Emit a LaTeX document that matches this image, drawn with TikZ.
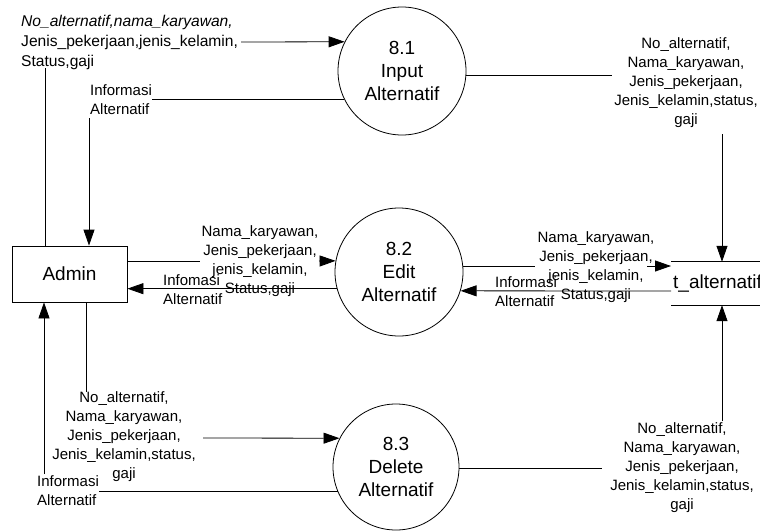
\documentclass[tikz,border=0pt]{standalone}
\usepackage{fontspec}
\setmainfont{Liberation Sans}
\usetikzlibrary{arrows.meta}
\newcommand\procfnt{\fontsize{19}{23}\selectfont}
\newcommand\lblfnt{\fontsize{15}{19}\selectfont}
\newcommand\toplblfnt{\fontsize{15.6}{20}\selectfont}
\begin{document}
\begin{tikzpicture}[x=1pt,y=-1pt,
  flow/.style={line width=0.8pt},
  arr/.style={flow,-{Triangle[length=16pt,width=11pt]}},
  proc/.style={circle,draw,line width=0.8pt,inner sep=0pt,align=center,font=\procfnt},
  ent/.style={rectangle,draw,line width=0.8pt,minimum width=115pt,minimum height=56pt,font=\procfnt},
  store/.style={rectangle,inner xsep=2pt,minimum height=43pt,font=\procfnt},
  lbl/.style={inner sep=0pt,align=center,font=\lblfnt},
  lbll/.style={inner sep=0pt,align=left,font=\lblfnt}]
\path[use as bounding box] (0,0) rectangle (760,530);
\clip (0,0) rectangle (760,530);

% external entity, processes and data store
\node[ent] (admin) at (69.5,274) {Admin};
\node[proc,minimum size=128pt] (c81) at (402,71) {8.1\\Input\\Alternatif};
\node[proc,minimum size=128pt] (c82) at (399,272) {8.2\\Edit\\Alternatif};
\node[proc,minimum size=126pt] (c83) at (396,467) {8.3\\Delete\\Alternatif};
\node[store,anchor=west] (st) at (671,283.5) {t\_alternatif};
\draw[flow] (st.north west) -- ++(100,0);
\draw[flow] (st.south west) -- ++(100,0);

% flow labels
\node[inner sep=0pt,align=left,font=\toplblfnt,anchor=west] (tl) at (21,42)
  {\itshape No\_alternatif,nama\_karyawan,\\Jenis\_pekerjaan,jenis\_kelamin,\\Status,gaji};
\node[lbll,anchor=west] (ia1) at (90,100) {Informasi\\Alternatif};
\node[lbl] (el) at (260,261) {Nama\_karyawan,\\Jenis\_pekerjaan,\\jenis\_kelamin,\\Status,gaji};
\node[lbll,anchor=west] (ia2) at (163,290) {Infomasi\\Alternatif};
\node[lbl] (er) at (596,267.5) {Nama\_karyawan,\\Jenis\_pekerjaan,\\jenis\_kelamin,\\Status,gaji};
\node[lbll,anchor=west] (ia3) at (495,292) {Informasi\\Alternatif};
\node[lbl] (tr) at (686,83) {No\_alternatif,\\Nama\_karyawan,\\Jenis\_pekerjaan,\\Jenis\_kelamin,status,\\gaji};
\node[lbl] (dl) at (124,437) {No\_alternatif,\\Nama\_karyawan,\\Jenis\_pekerjaan,\\Jenis\_kelamin,status,\\gaji};
\node[lbll,anchor=west] (ia4) at (37,491) {Informasi\\Alternatif};
\node[lbl] (dr) at (682,468) {No\_alternatif,\\Nama\_karyawan,\\Jenis\_pekerjaan,\\Jenis\_kelamin,status,\\gaji};

% break points of the flows around their labels
\coordinate (p1) at (45,68);
\coordinate (p2) at (89,118);
\coordinate (p3) at (200,261);
\coordinate (p4) at (319,261);
\coordinate (p5) at (535,266);
\coordinate (p6) at (647,266);
\coordinate (p7) at (671,291);
\coordinate (p8) at (612,76);
\coordinate (p9) at (722,134);
\coordinate (p10) at (86,392);
\coordinate (p11) at (203,438);
\coordinate (p12) at (44,474);
\coordinate (p13) at (602,468);
\coordinate (p14) at (722,421);

% 8.1 Input
\draw[flow] (admin.north -| p1) -- (p1);
\draw[arr] ([xshift=3pt]tl.east) -- (c81.153);
\draw[flow] (c81.206) -- (c81.206 -| ia1.east);
\draw[arr] (p2) -- (admin.north -| p2);
\draw[flow] (c81.-4) -- (c81.-4 -| p8);
\draw[arr] (p9) -- (p9 |- st.north);

% 8.2 Edit
\draw[flow] (admin.east |- p3) -- (p3);
\draw[arr] (p4) -- (c82.170);
\draw[arr] (c82.195) -- (c82.195 -| admin.east);
\draw[flow] (c82.5) -- (c82.5 -| p5);
\draw[arr] (p6) -- (p6 -| st.west);
\draw[arr] (p7) -- (c82.-17);

% 8.3 Delete
\draw[flow] (admin.south -| p10) -- (p10);
\draw[arr] (p11) -- (c83.153);
\draw[flow] (c83.203) -- (c83.203 -| ia4.east);
\draw[arr] (p12) -- (admin.south -| p12);
\draw[flow] (c83.-1) -- (c83.-1 -| p13);
\draw[arr] (p14) -- (p14 |- st.south);
\end{tikzpicture}
\end{document}
